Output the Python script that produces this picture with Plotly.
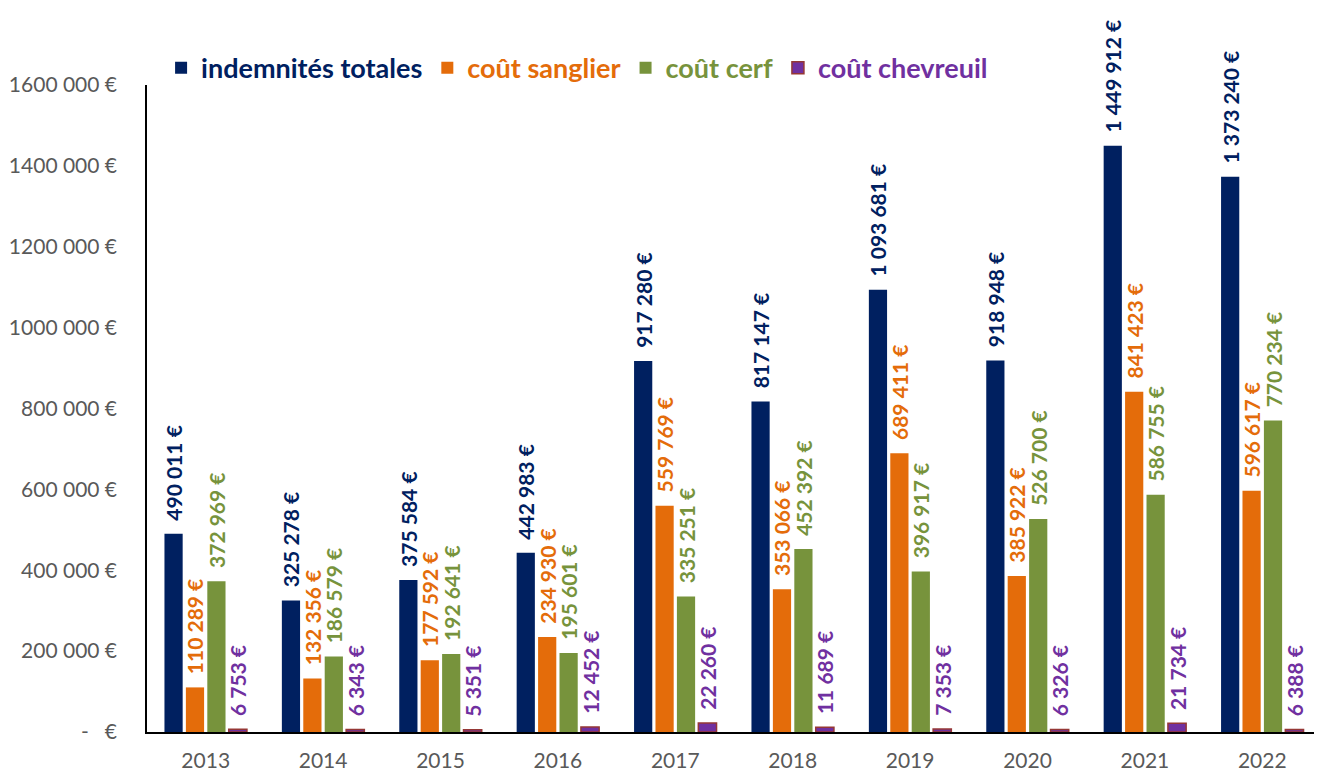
import plotly.graph_objects as go

years = ["2013", "2014", "2015", "2016", "2017", "2018", "2019", "2020", "2021", "2022"]
indemnites = [490011, 325278, 375584, 442983, 917280, 817147, 1093681, 918948, 1449912, 1373240]
sanglier = [110289, 132356, 177592, 234930, 559769, 353066, 689411, 385922, 841423, 596617]
cerf = [372969, 186579, 192641, 195601, 335251, 452392, 396917, 526700, 586755, 770234]
chevreuil = [6753, 6343, 5351, 12452, 22260, 11689, 7353, 6326, 21734, 6388]

tick_vals = [0, 200000, 400000, 600000, 800000, 1000000, 1200000, 1400000, 1600000]
tick_text = ["-\u00a0\u00a0\u00a0€", "200 000 €", "400 000 €", "600 000 €", "800 000 €",
             "1000 000 €", "1200 000 €", "1400 000 €", "1600 000 €"]

FONT = "Lato, 'Open Sans', sans-serif"


def euro(v):
    # leading nbsp give the gap between bar top and label, as in the original
    return "\u00a0\u00a0" + f"{v:,}".replace(",", " ") + " €"


series = [
    ("indemnités totales", indemnites, "#002060", "#002060"),
    ("coût sanglier", sanglier, "#E46C0A", "#E46C0A"),
    ("coût cerf", cerf, "#77933C", "#77933C"),
    ("coût chevreuil", chevreuil, "#7030A0", "#953735"),
]

fig = go.Figure()
for name, vals, color, edge in series:
    fig.add_trace(
        go.Bar(
            x=years,
            y=vals,
            name=f'<b><span style="color:{color}">{name}</span></b>',
            marker=dict(color=color, line=dict(color=edge, width=1.5 if edge != color else 0)),
            text=[euro(v) for v in vals],
            textposition="outside",
            textangle=-90,
            constraintext="none",
            cliponaxis=False,
            textfont=dict(family=FONT, size=21, color=color, weight="bold"),
        )
    )

# page body has an 8px margin, so the figure is 8px smaller and shifted
fig.update_layout(
    width=1314,
    height=766,
    margin=dict(l=139, r=1, t=77, b=42),
    plot_bgcolor="white",
    paper_bgcolor="white",
    barmode="group",
    bargap=0.27,
    bargroupgap=0.15,
    font=dict(family=FONT, size=21, color="#595959"),
    legend=dict(
        orientation="h",
        x=0.012,
        y=1.026,
        xanchor="left",
        yanchor="middle",
        font=dict(family=FONT, size=27),
        itemwidth=30,
        traceorder="normal",
    ),
)
fig.update_xaxes(
    showline=True,
    linecolor="black",
    linewidth=1.5,
    showgrid=False,
    ticks="",
    automargin=False,
    ticklabelstandoff=9,
    tickfont=dict(color="#595959", size=21),
)
fig.update_yaxes(
    range=[0, 1600000],
    tickvals=tick_vals,
    ticktext=tick_text,
    showline=True,
    linecolor="black",
    linewidth=1.5,
    showgrid=False,
    zeroline=False,
    ticks="",
    automargin=False,
    ticklabelstandoff=24,
    tickfont=dict(color="#595959", size=21),
)

fig.write_html("out.html")
